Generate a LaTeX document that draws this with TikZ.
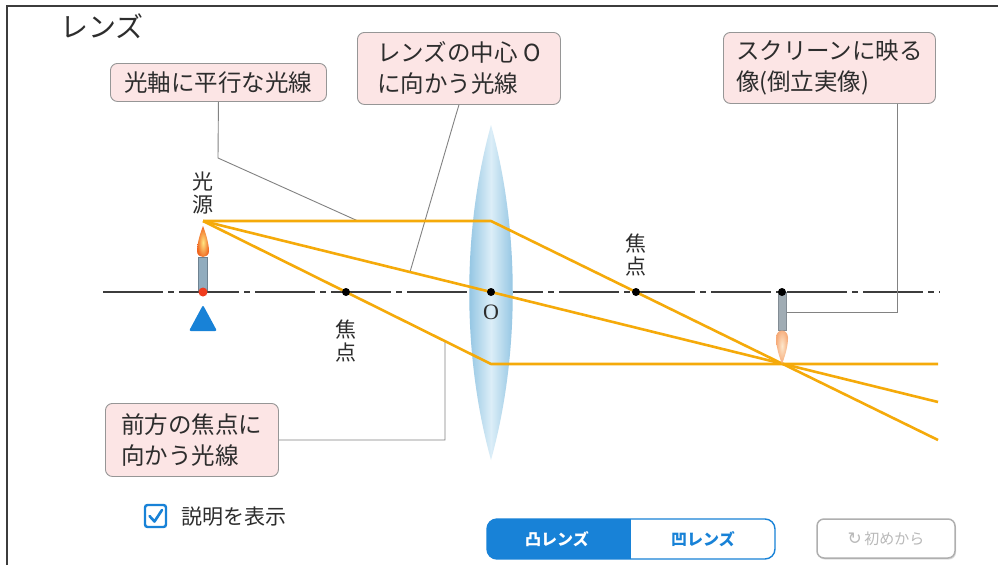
\documentclass[tikz,border=0pt]{standalone}
\usepackage{fontspec}
\setmainfont{Noto Sans CJK JP}
\newfontfamily\serifo{Liberation Serif}
\newfontfamily\symfont{DejaVu Sans}
\usetikzlibrary{calc,shadows}
\definecolor{raycol}{RGB}{245,170,10}
\definecolor{boxfill}{RGB}{252,229,229}
\definecolor{boxline}{RGB}{150,150,150}
\definecolor{leadcol}{RGB}{130,130,130}
\definecolor{axiscol}{RGB}{60,60,60}
\definecolor{lensedge}{RGB}{125,185,220}
\definecolor{lensmid}{RGB}{220,238,248}
\definecolor{uiblue}{RGB}{24,130,215}
\definecolor{txt}{RGB}{45,45,45}
\definecolor{candlebody}{RGB}{145,172,190}
\definecolor{candleedge}{RGB}{110,130,145}
\definecolor{flamein}{RGB}{255,230,130}
\definecolor{flameout}{RGB}{240,100,30}
\definecolor{wickred}{RGB}{240,60,30}
\definecolor{imgbody}{RGB}{160,172,180}
\definecolor{imgedge}{RGB}{130,140,148}
\definecolor{imgflamein}{RGB}{253,232,205}
\definecolor{imgflameout}{RGB}{246,170,120}
\definecolor{btngray}{RGB}{175,175,175}
\definecolor{btntext}{RGB}{185,185,185}
\tikzset{
  ray/.style={draw=raycol, line width=2.6pt, line join=round},
  leader/.style={draw=leadcol, line width=0.9pt},
  callout/.style={draw=boxline, fill=boxfill, rounded corners=7pt, line width=0.9pt,
    text=txt, align=left, font=\fontsize{23.5}{31}\selectfont, inner xsep=10pt, inner ysep=3pt},
  vlabel/.style={text=txt, align=center, font=\fontsize{21}{23}\selectfont, inner sep=0pt},
  fdot/.style={circle, fill=black, inner sep=0pt, minimum size=8pt},
}
\begin{document}
\begin{tikzpicture}[x=1pt,y=-1pt]
\useasboundingbox (0,0) rectangle (998,565);
\fill[white] (0,0) rectangle (998,565);
% frame
\draw[axiscol, line width=1.4pt] (7,565) -- (7,6) -- (998,6);
% title
\node[anchor=west, text=txt, font=\fontsize{28}{30}\selectfont, inner sep=0pt] (title) at (60,26) {レンズ};

% principal points
\coordinate (src) at (203,221);
\coordinate (srcbase) at (203,292);
\coordinate (O) at (491,292);
\coordinate (F1) at (346,292);
\coordinate (F2) at (636,292);
\coordinate (imgtip) at (782,364);
\coordinate (imgbase) at (782,292);
\coordinate (bendA) at (491,221);
\coordinate (bendC) at (491,364);
\coordinate (endA) at (938,440);
\coordinate (endB) at (938,402);
\coordinate (endC) at (938,364);
\coordinate (axL) at (103,292);
\coordinate (axR) at (940,292);

% optical axis
\draw[axiscol, line width=1.1pt, dash pattern=on 60pt off 5pt on 6pt off 5pt] (axL) -- (axR);

% lens
\shade[left color=lensedge, right color=lensedge, middle color=lensmid]
  (491,125) .. controls (520,230) and (520,355) .. (491,460)
  .. controls (462,355) and (462,230) .. (491,125) -- cycle;

% callouts
\node[callout, anchor=north west, minimum width=216pt, minimum height=38pt] (c1) at (110,63) {光軸に平行な光線};
\node[callout, anchor=north west, minimum width=203pt, minimum height=72pt] (c2) at (357,32) {レンズの中心 O\\に向かう光線};
\node[callout, anchor=north west, minimum width=212pt, minimum height=71pt] (c3) at (723,32) {スクリーンに映る\\像(倒立実像)};
\node[callout, anchor=north west, minimum width=173pt, minimum height=73pt] (c4) at (105,403) {前方の焦点に\\向かう光線};

% leader lines
\coordinate (k1) at (218,158);
\coordinate (p1) at (358,221);
\coordinate (k2) at (455,118);
\coordinate (p2) at (410,272);
\coordinate (k3) at (897,312);
\coordinate (p3) at (786,312);
\coordinate (k4) at (445,440);
\coordinate (p4) at (445,341);
\draw[leader] (c1.south) -- (k1) -- (p1);
\draw[leader] (c2.south) -- (k2) -- (p2);
\draw[leader] (c3.south -| k3) -- (k3) -- (p3);
\draw[leader] (c4.east) -- (k4) -- (p4);

% rays
\draw[ray] (src) -- (bendA) -- (endA);
\draw[ray] (src) -- (O) -- (endB);
\draw[ray] (src) -- (bendC) -- (endC);

% light source (candle) and its stand
\draw[fill=candlebody, draw=candleedge, line width=0.6pt] (198.5,257) rectangle (207.5,290);
\shade[inner color=flamein, outer color=flameout]
  (203,226) .. controls (199,236) and (197,246) .. (197,251)
  .. controls (197,259) and (209,259) .. (209,251)
  .. controls (209,246) and (207,236) .. (203,226) -- cycle;
\fill[wickred] (srcbase) circle (4.5pt);
\fill[uiblue, rounded corners=2pt] (203,305) -- (217,331) -- (189,331) -- cycle;

% image on the screen (inverted)
\draw[fill=imgbody, draw=imgedge, line width=0.6pt] (778,292) rectangle (786,330);
\shade[inner color=imgflamein, outer color=imgflameout]
  (imgtip) .. controls (778,354) and (776,344) .. (776,338)
  .. controls (776,328) and (788,328) .. (788,338)
  .. controls (788,344) and (786,354) .. (imgtip) -- cycle;

% points on the axis
\node[fdot] (dF1) at (F1) {};
\node[fdot] (dF2) at (F2) {};
\node[fdot] (dO) at (O) {};
\node[fdot] (dI) at (imgbase) {};

% labels
\node[vlabel] (lsrc) at (203,193) {光\\源};
\node[vlabel] (lF1) at (346,341) {焦\\点};
\node[vlabel] (lF2) at (636,255) {焦\\点};
\node[text=txt, font=\serifo\fontsize{22}{22}\selectfont, inner sep=0pt] (lO) at (491,312) {O};

% checkbox
\draw[uiblue, line width=2.4pt, fill=white, rounded corners=2.5pt] (145,505) rectangle (166,527);
\draw[uiblue, line width=2.6pt, line cap=round, line join=round] (149.5,516) -- (154.5,521.5) -- (162,510);
\node[anchor=west, text=txt, font=\fontsize{21}{23}\selectfont, inner sep=0pt] (chk) at (181,517) {説明を表示};

% lens type toggle
\begin{scope}
  \clip[rounded corners=10pt] (487,519) rectangle (775,559);
  \fill[uiblue] (487,519) rectangle (631,559);
\end{scope}
\draw[uiblue, line width=1.4pt, rounded corners=10pt] (487,519) rectangle (775,559);
\node[text=white, font=\bfseries\fontsize{16}{18}\selectfont, inner sep=0pt] (bconvex) at (557,539) {凸レンズ};
\node[text=uiblue, font=\bfseries\fontsize{16}{18}\selectfont, inner sep=0pt] (bconcave) at (703,539) {凹レンズ};

% reset button
\draw[btngray, line width=1.5pt, fill=white, rounded corners=7pt,
  drop shadow={shadow xshift=1pt, shadow yshift=-1.5pt, fill=black!25}] (817,519) rectangle (955,558);
\node[text=btntext, font=\fontsize{15}{17}\selectfont, inner sep=0pt] (breset) at (886,539) {{\symfont\fontsize{17}{17}\selectfont ↻}\,初めから};
\end{tikzpicture}
\end{document}
